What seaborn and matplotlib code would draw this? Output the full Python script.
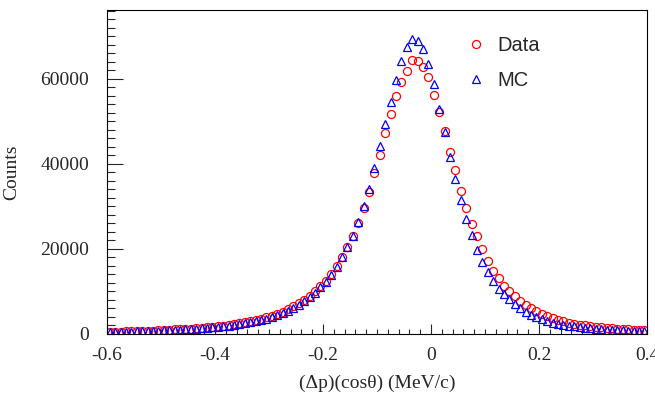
import numpy as np
import pandas as pd
import matplotlib
matplotlib.use("Agg")
import matplotlib.pyplot as plt
from matplotlib.ticker import MultipleLocator
import seaborn as sns

# bin centres of the (dp)(cos theta) histogram, 0.01 wide from -0.6 to 0.4
bin_centres = np.round(np.arange(-0.595, 0.4, 0.01), 3)

# counts, one value per bin
data_counts = [
    500, 530, 560, 600, 640, 680, 720, 770, 820, 870,
    930, 990, 1060, 1130, 1210, 1290, 1380, 1480, 1590, 1710,
    1840, 1980, 2140, 2310, 2500, 2720, 2960, 3230, 3540, 3890,
    4290, 4740, 5250, 5830, 6480, 7220, 8060, 9000, 10050, 11200,
    12500, 14000, 15900, 18100, 20500, 23100, 26200, 29600, 33500, 37800,
    42100, 47200, 51800, 55900, 59200, 61800, 64400, 64100, 62700, 60400,
    56300, 52200, 47800, 42700, 38600, 33600, 29700, 25900, 23100, 20100,
    17200, 14900, 13200, 11400, 10100, 8900, 7850, 6900, 6050, 5300,
    4700, 4200, 3750, 3350, 3000, 2700, 2450, 2230, 2030, 1850,
    1700, 1560, 1440, 1330, 1230, 1140, 1060, 990, 920, 860,
]
mc_counts = [
    450, 480, 510, 540, 570, 610, 650, 690, 740, 790,
    840, 900, 960, 1030, 1100, 1180, 1260, 1350, 1450, 1560,
    1680, 1810, 1960, 2120, 2300, 2500, 2730, 2990, 3280, 3610,
    3990, 4420, 4920, 5500, 6150, 6900, 7750, 8700, 9750, 10950,
    12250, 13800, 15700, 18000, 20400, 23100, 26400, 30000, 34200, 39000,
    44200, 49400, 54500, 59800, 64100, 67400, 69300, 69000, 67100, 63600,
    58700, 52900, 47500, 41600, 36400, 31400, 27000, 23200, 19800, 16900,
    14600, 12400, 10700, 9400, 8200, 7100, 6100, 5250, 4550, 3950,
    3450, 3050, 2700, 2400, 2150, 1950, 1780, 1620, 1480, 1350,
    1240, 1140, 1050, 970, 900, 830, 770, 710, 660, 620,
]

x_ticks = [-0.6, -0.4, -0.2, 0, 0.2, 0.4]
x_tick_labels = ["-0.6", "-0.4", "-0.2", "0", "0.2", "0.4"]
y_ticks = [0, 20000, 40000, 60000]

df = pd.DataFrame({"x": bin_centres, "Data": data_counts, "MC": mc_counts})

sns.set_style("ticks")
plt.rcParams["font.family"] = ["Liberation Serif", "DejaVu Serif"]

fig = plt.figure(figsize=(6.55, 4.01), dpi=100)
ax = fig.add_axes([107 / 655, 1 - 334 / 401, 540 / 655, 324 / 401])

sns.lineplot(data=df, x="x", y="Data", ax=ax, linestyle="", marker="o",
             markersize=5.8, markerfacecolor="none", markeredgecolor="red",
             markeredgewidth=0.9, label="Data")
sns.lineplot(data=df, x="x", y="MC", ax=ax, linestyle="", marker="^",
             markersize=5.8, markerfacecolor="none", markeredgecolor="blue",
             markeredgewidth=0.9, label="MC")

ax.set_xlim(-0.6, 0.4)
ax.set_ylim(0, 76200)
ax.set_xticks(x_ticks)
ax.set_xticklabels(x_tick_labels)
ax.set_yticks(y_ticks)
ax.set_yticklabels([str(v) for v in y_ticks])
ax.xaxis.set_minor_locator(MultipleLocator(0.02))
ax.yaxis.set_minor_locator(MultipleLocator(2000))

ax.tick_params(axis="x", which="major", direction="in", length=7, width=0.8,
               labelsize=14, pad=9, top=False)
ax.tick_params(axis="x", which="minor", direction="in", length=3.6, width=0.8, top=False)
ax.tick_params(axis="y", which="major", direction="in", length=11.5, width=0.8,
               labelsize=14, pad=13, right=False)
ax.tick_params(axis="y", which="minor", direction="in", length=5.8, width=0.8, right=False)
for s in ax.spines.values():
    s.set_linewidth(0.8)
    s.set_color("black")

ax.set_xlabel("(Δp)(cosθ) (MeV/c)", fontsize=14, labelpad=8)
ax.set_ylabel("Counts", fontsize=14, labelpad=14)

leg = ax.legend(frameon=False, loc="upper left", bbox_to_anchor=(0.632, 0.975),
                prop={"family": "Liberation Sans", "size": 14.5},
                handlelength=1.0, handletextpad=0.55, labelspacing=0.78,
                markerscale=1.0)

fig.savefig("out.png", dpi=100)
